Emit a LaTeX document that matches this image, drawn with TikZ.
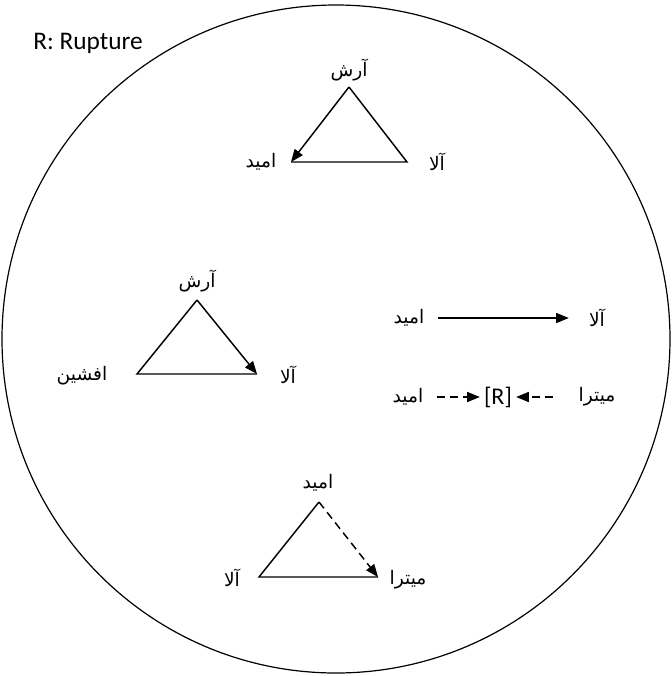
\documentclass[tikz,border=0pt]{standalone}
\usepackage{fontspec}
\setmainfont{Carlito}
\newfontfamily\farsi[Script=Arabic]{DejaVu Sans}
\TeXXeTstate=1
\usetikzlibrary{arrows.meta}
\newcommand{\fa}[1]{{\farsi\beginR #1\endR}}

\begin{document}
\begin{tikzpicture}[x=0.75pt, y=-0.75pt,
    who/.style={font=\fontsize{14}{16}\selectfont, inner sep=1pt},
    side/.style={line width=1.1pt},
    tip/.style={-{Triangle[length=9.5pt,width=7.5pt]}},
    gap/.style={dashed, dash pattern=on 6pt off 3.75pt}]
  \useasboundingbox (0,0) rectangle (672,676);

  % border
  \draw[line width=0.9pt] (336,339) circle [x radius=334, y radius=334];
  \node[font=\fontsize{19}{20}\selectfont, anchor=west, inner sep=0pt] (legend) at (33,43) {R: Rupture};

  % top triangle
  \coordinate (t1a) at (349,87);
  \coordinate (t1b) at (291,162);
  \coordinate (t1c) at (407,162);
  \draw[side] (t1a) -- (t1c) -- (t1b);
  \draw[side, tip] (t1a) -- (t1b);
  \node[who] (arash1) at (349,70) {\fa{آرش}};
  \node[who] (omid1) at (261,162) {\fa{امید}};
  \node[who] (ala1) at (437,162) {\fa{آلا}};

  % left triangle
  \coordinate (t2a) at (197,300);
  \coordinate (t2b) at (137,374);
  \coordinate (t2c) at (257,374);
  \draw[side] (t2a) -- (t2b) -- (t2c);
  \draw[side, tip] (t2a) -- (t2c);
  \node[who] (arash2) at (197,281) {\fa{آرش}};
  \node[who] (afshin) at (82,376) {\fa{افشین}};
  \node[who] (ala2) at (288,375) {\fa{آلا}};

  % bottom triangle
  \coordinate (t3a) at (319,502);
  \coordinate (t3b) at (259,577);
  \coordinate (t3c) at (378,577);
  \draw[side] (t3a) -- (t3b) -- (t3c);
  \draw[side, gap, tip] (t3a) -- (t3c);
  \node[who] (omid3) at (318,483) {\fa{امید}};
  \node[who] (ala3) at (232,578) {\fa{آلا}};
  \node[who] (mitra3) at (408,580) {\fa{میترا}};

  % right side
  \node[who] (omid4) at (409,318) {\fa{امید}};
  \node[who] (ala4) at (597,318) {\fa{آلا}};
  \draw[side, tip, shorten <=9pt, shorten >=14pt] (omid4.east) -- (ala4.west);

  \node[who] (omid5) at (408,397) {\fa{امید}};
  \node[font=\fontsize{18}{20}\selectfont, inner sep=1pt] (rup) at (498,397) {[R]};
  \node[who] (mitra5) at (597,397) {\fa{میترا}};
  \draw[side, gap, tip, shorten <=9pt, shorten >=2pt] (omid5.east) -- (rup.west);
  \draw[side, gap, tip, shorten <=18pt, shorten >=2pt] (mitra5.west) -- (rup.east);
\end{tikzpicture}
\end{document}
